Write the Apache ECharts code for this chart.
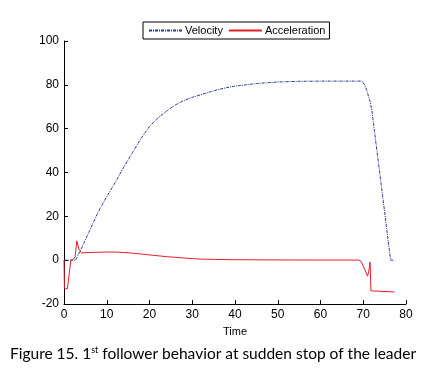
<!DOCTYPE html>
<html>
<head>
<meta charset="utf-8">
<script src="https://cdn.jsdelivr.net/npm/echarts@6/dist/echarts.min.js"></script>
<style>
  html, body { margin: 0; padding: 0; background: #fff; }
  #chart { width: 426px; height: 368px; }
</style>
</head>
<body>
<div id="chart"></div>
<script>
// time (s), value pairs
var velocity = [
    [0, 0], [2.7, 0], [4, 5], [6, 13.5], [8, 22], [10, 29], [12, 35.5], [14, 42.5],
    [16, 49], [18, 55.5], [20, 61], [22, 65], [24, 68], [26, 70.8], [28, 72.8],
    [30, 74.3], [32, 75.5], [34, 76.7], [36, 77.8], [38, 78.7], [40, 79.4],
    [45, 80.6], [50, 81.3], [55, 81.6], [60, 81.7], [69.7, 81.7], [70.3, 80],
    [70.8, 77.6], [71.6, 72.3], [72, 68.5], [73, 53], [74, 37.5], [75, 22],
    [76, 6.2], [76.4, 0], [77.3, 0]
];
var acceleration = [
    [0, 0], [0.1, -13], [0.8, -13], [1.6, 0], [2.2, 0.5], [2.6, 1.5], [3.0, 8.8],
    [3.5, 5], [4.1, 3.3], [6, 3.5], [8, 3.6], [10, 3.7], [12, 3.7], [14, 3.5],
    [16, 3.2], [18, 2.8], [20, 2.4], [22, 2], [24, 1.6], [26, 1.3], [28, 1],
    [30, 0.7], [32, 0.5], [35, 0.35], [40, 0.2], [50, 0.1], [60, 0.05],
    [68.9, 0.05], [69.5, -0.5], [70.3, -4], [71, -7.3], [71.3, -5], [71.6, -0.8],
    [71.8, -14], [72, -14.3], [77.3, -14.5]
];
var seriesNames = ['Velocity', 'Acceleration'];
var yTicks = [-20, 0, 20, 40, 60, 80, 100];
var xTicks = [0, 10, 20, 30, 40, 50, 60, 70, 80];

var myChart = echarts.init(document.getElementById('chart'));

var axisFont = { fontFamily: 'Liberation Sans, Arial', fontSize: 12, color: '#000' };

var option = {
    animation: false,
    backgroundColor: '#fff',
    title: {
        text: '{a|Figure 15. 1}{s|st}{a| follower behavior at sudden stop of the leader}',
        left: 'center',
        top: 341,
        textStyle: {
            rich: {
                a: { fontFamily: 'Lato', fontSize: 15.5, fontWeight: 'normal', color: '#000' },
                s: { fontFamily: 'Lato', fontSize: 9, fontWeight: 'normal', color: '#000', verticalAlign: 'top', padding: [0, 0, 7, 0] }
            }
        }
    },
    legend: {
        data: seriesNames,
        left: 143,
        top: 22,
        orient: 'horizontal',
        itemWidth: 33,
        itemHeight: 10,
        itemGap: 5,
        padding: [3, 4, 3, 5],
        borderColor: '#000',
        borderWidth: 1,
        borderRadius: 0,
        itemStyle: { opacity: 0 },
        textStyle: { fontFamily: 'Liberation Sans, Arial', fontSize: 11, color: '#000', padding: [0, 0, 0, -2] }
    },
    grid: { left: 64, right: 20, top: 41, bottom: 64 },
    xAxis: {
        type: 'value',
        min: xTicks[0],
        max: xTicks[xTicks.length - 1],
        interval: 10,
        name: 'Time',
        nameLocation: 'middle',
        nameGap: 22,
        nameTextStyle: { fontFamily: 'Liberation Sans, Arial', fontSize: 11, color: '#000' },
        axisLine: { onZero: false, lineStyle: { color: '#000', width: 1 } },
        axisTick: { inside: true, length: 4, lineStyle: { color: '#000' } },
        axisLabel: Object.assign({ margin: 5 }, axisFont),
        splitLine: { show: false }
    },
    yAxis: {
        type: 'value',
        min: yTicks[0],
        max: yTicks[yTicks.length - 1],
        interval: 20,
        axisLine: { show: true, lineStyle: { color: '#000', width: 1 } },
        axisTick: { show: true, inside: true, length: 4, lineStyle: { color: '#000' } },
        axisLabel: Object.assign({ margin: 5 }, axisFont),
        splitLine: { show: false }
    },
    series: [
        {
            name: seriesNames[0],
            type: 'line',
            data: velocity,
            symbol: 'none',
            color: '#2b3890',
            lineStyle: { width: 1, color: '#2b3890', type: [3, 1, 1, 1] }
        },
        {
            name: seriesNames[1],
            type: 'line',
            data: acceleration,
            symbol: 'none',
            color: '#e0202a',
            lineStyle: { width: 1, color: '#e0202a' }
        }
    ]
};

myChart.setOption(option);
</script>
</body>
</html>
